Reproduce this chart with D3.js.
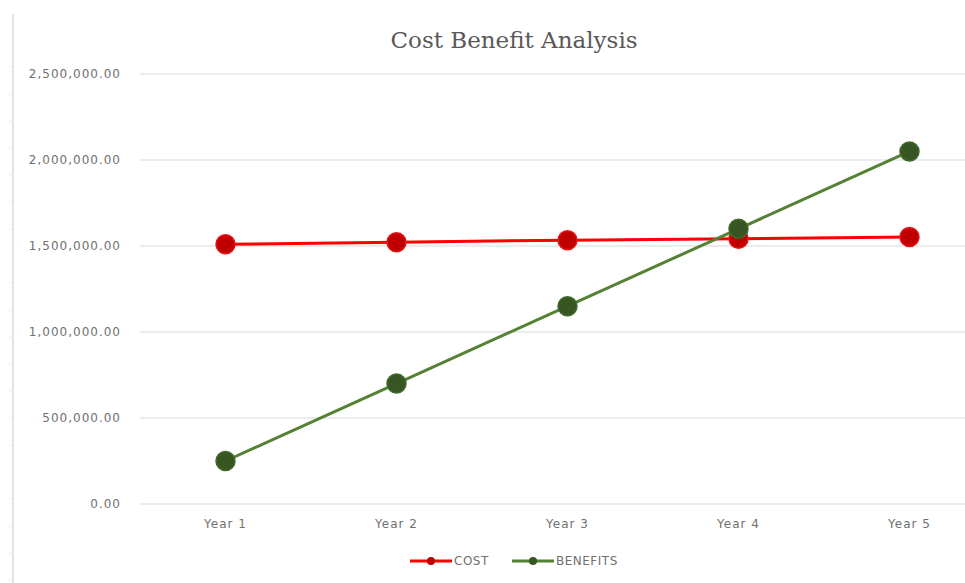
<!DOCTYPE html>
<html>
<head>
<meta charset="utf-8">
<script src="https://cdn.jsdelivr.net/npm/d3@7"></script>
<style>
body { margin: 0; background: #fff; }
svg { display: block; }
</style>
</head>
<body>
<script>
// Cost benefit chart
const years = ["Year 1", "Year 2", "Year 3", "Year 4", "Year 5"];
const cost = [1510000, 1522000, 1534000, 1542000, 1552000];
const benefits = [250000, 700000, 1150000, 1600000, 2050000];
const yTicks = [0, 500000, 1000000, 1500000, 2000000, 2500000];

function draw() {
const width = 965;
const height = 583;

const svg = d3.select("body")
	.append("svg")
	.attr("width", width)
	.attr("height", height);

const x = d3.scaleBand()
	.domain(years)
	.range([140, 995]);

const y = d3.scaleLinear()
	.domain([0, 2500000])
	.range([504, 74]);

const fmt = d3.format(",.2f");

// faint ruler on the left edge
svg.append("line")
	.attr("x1", 13).attr("x2", 13)
	.attr("y1", 14).attr("y2", 583)
	.attr("stroke", "#e4e4e4")
	.attr("stroke-width", 2);
svg.selectAll(".rtick")
	.data(d3.range(40, 583, 27))
	.enter()
	.append("line")
	.attr("x1", 9).attr("x2", 13)
	.attr("y1", d => d).attr("y2", d => d)
	.attr("stroke", "#ececec");

// title
svg.append("text")
	.attr("x", 514)
	.attr("y", 48)
	.attr("text-anchor", "middle")
	.attr("font-family", "'DejaVu Serif', serif")
	.attr("font-size", 23)
	.attr("fill", "#595959")
	.text("Cost Benefit Analysis");

// gridlines
svg.selectAll(".grid")
	.data(yTicks)
	.enter()
	.append("line")
	.attr("x1", 140).attr("x2", width)
	.attr("y1", d => y(d)).attr("y2", d => y(d))
	.attr("stroke", "#d9d9d9")
	.attr("stroke-width", 1);

// y labels
svg.selectAll(".ylab")
	.data(yTicks)
	.enter()
	.append("text")
	.attr("x", 121)
	.attr("y", d => y(d) + 4)
	.attr("text-anchor", "end")
	.attr("font-family", "'DejaVu Sans', sans-serif")
	.attr("font-size", 12)
	.attr("letter-spacing", 1)
	.attr("fill", "#707070")
	.text(d => fmt(d));

// x labels
svg.selectAll(".xlab")
	.data(years)
	.enter()
	.append("text")
	.attr("x", d => x(d) + x.bandwidth() / 2)
	.attr("y", 528)
	.attr("text-anchor", "middle")
	.attr("font-family", "'DejaVu Sans', sans-serif")
	.attr("font-size", 12)
	.attr("letter-spacing", 1)
	.attr("fill", "#707070")
	.text(d => d);

const series = [
	{ name: "COST", values: cost, line: "#ff0000", marker: "#c00000", edge: "#e8141a" },
	{ name: "BENEFITS", values: benefits, line: "#548235", marker: "#375623", edge: "#3f6a2a" }
];

const line = d3.line()
	.x((d, i) => x(years[i]) + x.bandwidth() / 2)
	.y(d => y(d));

series.forEach(s => {
	const g = svg.append("g");
	g.append("path")
		.datum(s.values)
		.attr("d", line)
		.attr("fill", "none")
		.attr("stroke", s.line)
		.attr("stroke-width", 3);
	g.selectAll("circle")
		.data(s.values)
		.enter()
		.append("circle")
		.attr("cx", (d, i) => x(years[i]) + x.bandwidth() / 2)
		.attr("cy", d => y(d))
		.attr("r", 9.5)
		.attr("fill", s.marker)
		.attr("stroke", s.edge)
		.attr("stroke-width", 1.5);
});

// legend
const legend = svg.append("g").attr("transform", "translate(410,561)");
const items = legend.selectAll("g")
	.data(series)
	.enter()
	.append("g")
	.attr("transform", (d, i) => "translate(" + (i * 102) + ",0)");
items.append("line")
	.attr("x1", 0).attr("x2", 42)
	.attr("stroke", d => d.line)
	.attr("stroke-width", 3);
items.append("circle")
	.attr("cx", 21)
	.attr("r", 4)
	.attr("fill", d => d.marker);
items.append("text")
	.attr("x", 44)
	.attr("y", 4)
	.attr("font-family", "'DejaVu Sans', sans-serif")
	.attr("font-size", 12)
	.attr("letter-spacing", 0.5)
	.attr("fill", "#707070")
	.text(d => d.name);
}
window.onload = draw;
</script>
</body>
</html>
